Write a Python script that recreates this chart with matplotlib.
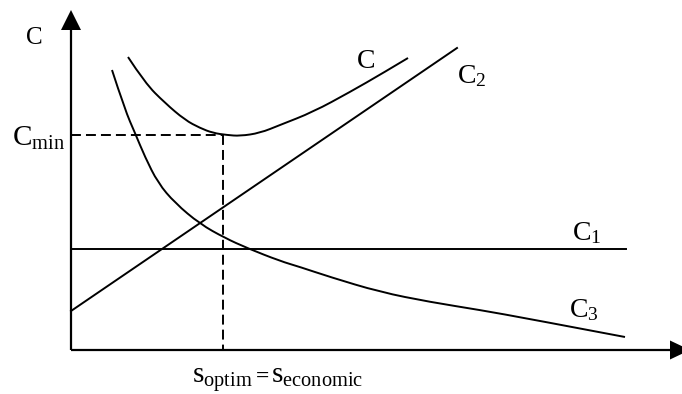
import matplotlib
matplotlib.use("Agg")
import matplotlib.pyplot as plt
from matplotlib.path import Path
from matplotlib.patches import PathPatch

plt.rcParams['font.family'] = ['Liberation Serif', 'DejaVu Serif']
plt.rcParams['mathtext.fontset'] = 'custom'
plt.rcParams['mathtext.rm'] = 'Liberation Serif'
plt.rcParams['mathtext.it'] = 'Liberation Serif:italic'
plt.rcParams['mathtext.bf'] = 'Liberation Serif:bold'

# ---- data (arbitrary units; origin = axes corner) ----
c1_x = [0, 555]
c1_y = [101, 101]

c2_x = [0, 386]
c2_y = [39, 302]

c3_x = [41, 54, 64, 74, 87, 104, 129, 154, 176, 209, 229, 259, 309, 359, 409, 459, 554]
c3_y = [280, 240, 217, 193, 167, 147, 126, 112, 102, 89, 83, 73, 58, 48, 40, 31, 13]

c_x = [57, 74, 94, 114, 129, 142, 156, 169, 189, 209, 242, 279, 312, 337]
c_y = [293, 267, 247, 230, 222, 217, 215, 214, 217, 225, 238, 258, 277, 292]

s_opt = 152
c_min = 215

fig = plt.figure(figsize=(6.82, 3.94), dpi=100)
ax = fig.add_axes([0, 0, 1, 1])
ax.set_xlim(-71, 611)
ax.set_ylim(-44, 350)
ax.axis('off')

lw = 1.4


def smooth_curve(ax, xs, ys, **kw):
    """Draw a smooth (quadratic B-spline style) path through the read points."""
    pts = list(zip(xs, ys))
    verts = [pts[0]]
    codes = [Path.MOVETO]
    n = len(pts)
    for i in range(1, n - 1):
        ctrl = pts[i]
        if i == n - 2:
            end = pts[n - 1]
        else:
            end = ((pts[i][0] + pts[i + 1][0]) / 2, (pts[i][1] + pts[i + 1][1]) / 2)
        verts += [ctrl, end]
        codes += [Path.CURVE3, Path.CURVE3]
    ax.add_patch(PathPatch(Path(verts, codes), fill=False, **kw))


# axes
ax.plot([0, 0], [0, 322], color='k', lw=1.6, solid_capstyle='butt')
ax.plot([0, 602], [0, 0], color='k', lw=1.6, solid_capstyle='butt')
ax.fill([-10, 10, 0], [320, 320, 340], color='k', lw=0)
ax.fill([599, 599, 619], [-9.5, 9.5, 0], color='k', lw=0)

# curves
ax.plot(c1_x, c1_y, color='k', lw=lw)
ax.plot(c2_x, c2_y, color='k', lw=lw)
smooth_curve(ax, c3_x, c3_y, edgecolor='k', lw=lw)
smooth_curve(ax, c_x, c_y, edgecolor='k', lw=lw)

# dashed guides
ax.plot([0, s_opt], [c_min, c_min], color='k', lw=lw, dashes=(5.1, 2.6))
ax.plot([s_opt, s_opt], [c_min, 0], color='k', lw=lw, dashes=(5.1, 2.6))

fs = 20
ax.text(-45, 306, 'C', fontsize=18, ha='left', va='baseline')
ax.text(-59, 204, r'$\mathrm{C}_{\mathrm{min}}$', fontsize=21, ha='left', va='baseline')
ax.text(286, 282, 'C', fontsize=fs, ha='left', va='baseline')
ax.text(386, 267, r'$\mathrm{C}_{2}$', fontsize=fs, ha='left', va='baseline')
ax.text(501, 110, r'$\mathrm{C}_{1}$', fontsize=fs, ha='left', va='baseline')
ax.text(498, 33, r'$\mathrm{C}_{3}$', fontsize=fs, ha='left', va='baseline')
ax.text(121, -33, r'$\mathrm{s}_{\mathrm{optim}}$', fontsize=21, ha='left', va='baseline')
ax.text(185, -33, '=', fontsize=17, fontweight='bold', ha='left', va='baseline')
ax.text(200, -33, r'$\mathrm{s}_{\mathrm{economic}}$', fontsize=21, ha='left', va='baseline')

fig.savefig('out.png', dpi=100)
